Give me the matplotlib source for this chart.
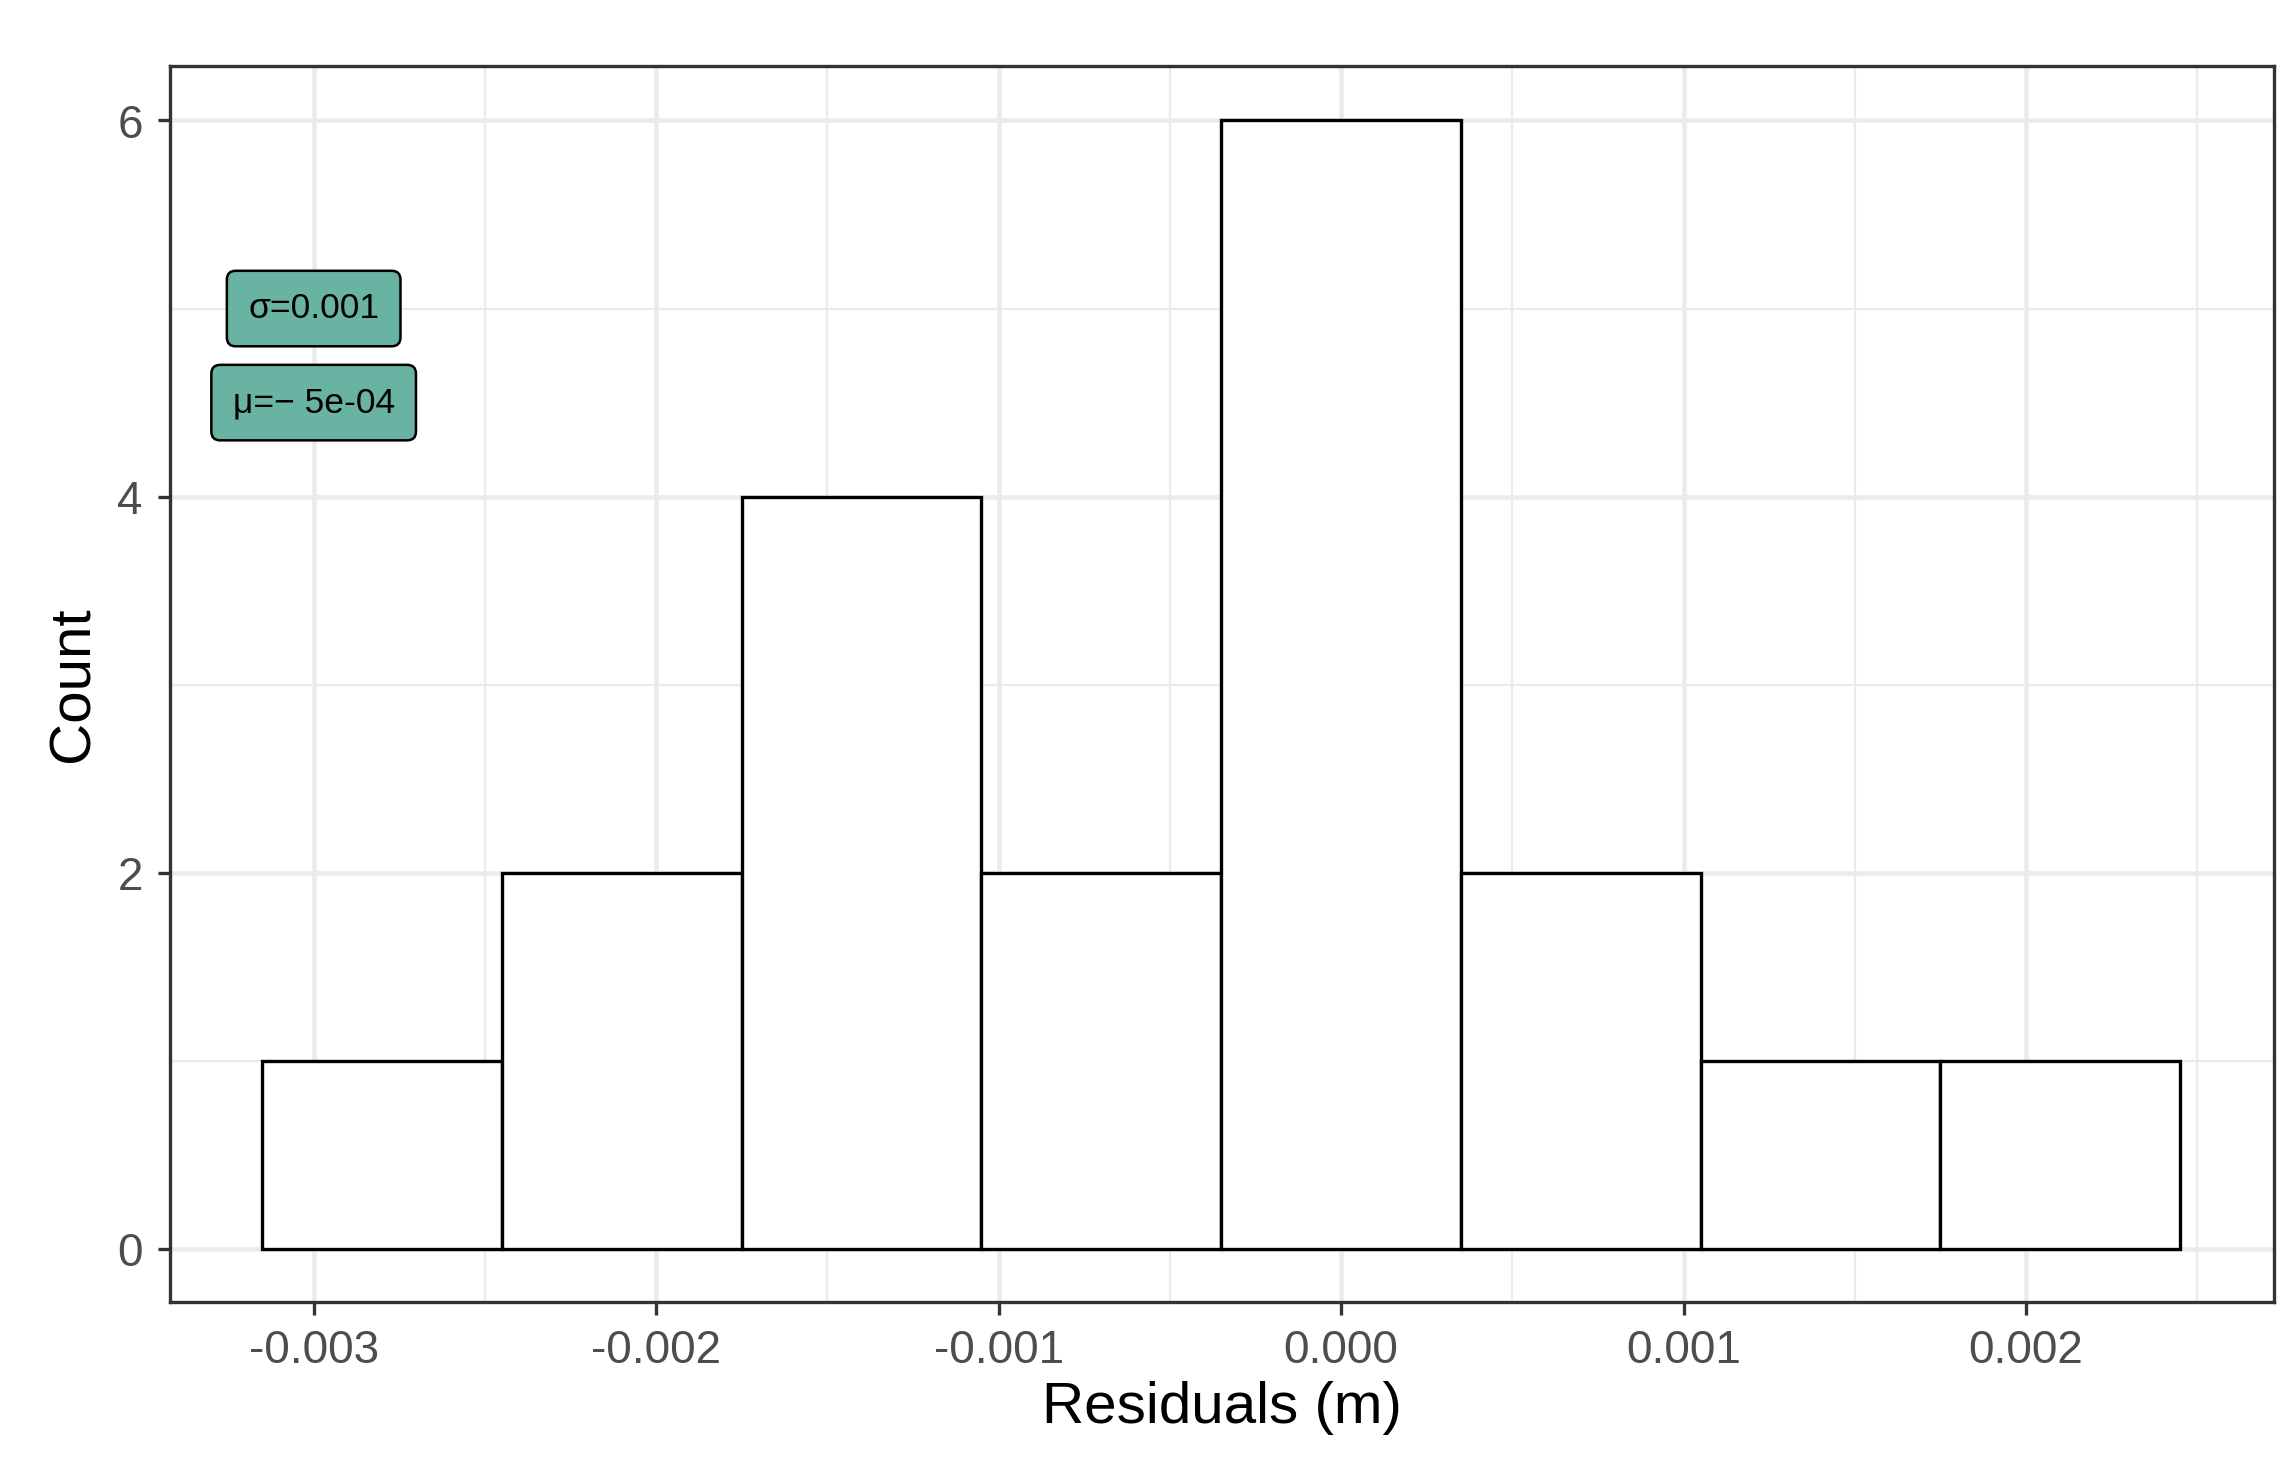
import matplotlib
matplotlib.use("Agg")
import matplotlib.pyplot as plt
import numpy as np

bin_edges = [-0.00315, -0.00245, -0.00175, -0.00105, -0.00035, 0.00035, 0.00105, 0.00175, 0.00245]
counts = [1, 2, 4, 2, 6, 2, 1, 1]
xticks = [-0.003, -0.002, -0.001, 0.000, 0.001, 0.002]
xticklabels = ["-0.003", "-0.002", "-0.001", "0.000", "0.001", "0.002"]
yticks = [0, 2, 4, 6]

plt.rcParams['font.family'] = ['Liberation Sans', 'DejaVu Sans']
fig = plt.figure(figsize=(7.65, 4.887), dpi=300)
ax = fig.add_axes([0.074, 0.112, 0.917, 0.843])

edges = np.array(bin_edges)
ax.bar(edges[:-1], counts, width=np.diff(edges), align='edge',
       facecolor='white', edgecolor='black', linewidth=0.8, zorder=3)

ax.set_xticks(xticks)
ax.set_xticklabels(xticklabels)
ax.set_yticks(yticks)
ax.set_xticks(np.arange(-0.0025, 0.0026, 0.001), minor=True)
ax.set_yticks([1, 3, 5], minor=True)
ax.set_xlim(-0.00342, 0.002725)
ax.set_ylim(-0.28, 6.29)
ax.grid(which='major', color='#EBEBEB', linewidth=1.1, zorder=0)
ax.grid(which='minor', color='#EBEBEB', linewidth=0.55, zorder=0)
ax.set_axisbelow(True)
ax.tick_params(which='minor', length=0)
ax.tick_params(which='major', length=3, color='#333333', labelsize=11, labelcolor='#4D4D4D', width=0.8)
for s in ax.spines.values():
    s.set_color('#333333'); s.set_linewidth(0.8)

ax.set_xlabel("Residuals (m)", fontsize=14, labelpad=2)
ax.set_ylabel("Count", fontsize=14, labelpad=4)

bbox = dict(boxstyle='round,pad=0.6,rounding_size=0.25', facecolor='#69B3A2', edgecolor='black', linewidth=0.6)
ax.text(-0.003, 5.0, "σ=0.001", ha='center', va='center', fontsize=8.5, bbox=bbox, zorder=5)
ax.text(-0.003, 4.5, "μ=− 5e-04", ha='center', va='center', fontsize=8.5, bbox=bbox, zorder=5)

fig.savefig("out.png", dpi=300)
